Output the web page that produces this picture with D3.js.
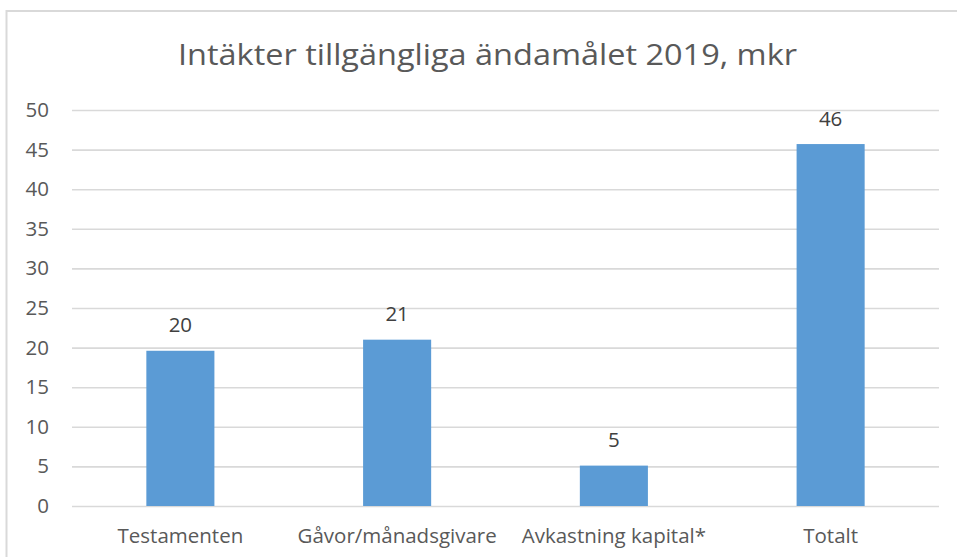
<!DOCTYPE html>
<html>
<head>
<meta charset="utf-8">
<script src="https://cdn.jsdelivr.net/npm/d3@7"></script>
<style>
  html, body { margin: 0; padding: 0; background: #ffffff; }
  svg { display: block; }
</style>
</head>
<body>
<svg id="chart" width="957" height="557"></svg>
<script>
// ---- data ----
const chartTitle = "Intäkter tillgängliga ändamålet 2019, mkr";
const categories = ["Testamenten", "Gåvor/månadsgivare", "Avkastning kapital*", "Totalt"];
const values = [19.6, 21.0, 5.1, 45.7];
const valueLabels = ["20", "21", "5", "46"];
const yTicks = [0, 5, 10, 15, 20, 25, 30, 35, 40, 45, 50];

// ---- layout ----
const W = 957, H = 557;
const plot = { left: 72, right: 939, top: 110, bottom: 506 };
const svg = d3.select("#chart");
const font = "'Open Sans', 'Noto Sans', sans-serif";

// chart border (extends beyond the right/bottom of the picture)
svg.append("rect")
  .attr("x", 6.5).attr("y", 11)
  .attr("width", W + 20).attr("height", H + 20)
  .attr("fill", "#ffffff")
  .attr("stroke", "#d9d9d9")
  .attr("stroke-width", 2);

// title
const title = svg.append("text")
  .attr("x", (178 + 797) / 2)
  .attr("y", 65)
  .attr("text-anchor", "middle")
  .attr("font-family", font)
  .attr("font-size", 30)
  .attr("fill", "#595959")
  .text(chartTitle);
title.attr("textLength", 619).attr("lengthAdjust", "spacingAndGlyphs");

// scales
const x = d3.scaleBand()
  .domain(categories)
  .range([plot.left, plot.right])
  .paddingInner(0.686)
  .paddingOuter(0.343);

const y = d3.scaleLinear()
  .domain([0, 50])
  .range([plot.bottom, plot.top]);

// gridlines + y axis labels via d3 axis
const yAxis = svg.append("g")
  .attr("transform", `translate(${plot.left},0)`)
  .call(d3.axisLeft(y).tickValues(yTicks).tickSize(-(plot.right - plot.left)).tickPadding(23));
yAxis.select(".domain").remove();
yAxis.selectAll(".tick line")
  .attr("stroke", "#d9d9d9")
  .attr("stroke-width", 1.6);
yAxis.selectAll(".tick text")
  .attr("font-family", font)
  .attr("font-size", 20.5)
  .attr("fill", "#595959");

// bars
svg.append("g").selectAll("rect")
  .data(categories)
  .join("rect")
  .attr("x", d => x(d))
  .attr("width", x.bandwidth())
  .attr("y", (d, i) => y(values[i]))
  .attr("height", (d, i) => y(0) - y(values[i]))
  .attr("fill", "#5b9bd5");

// data labels
svg.append("g").selectAll("text")
  .data(categories)
  .join("text")
  .attr("x", d => x(d) + x.bandwidth() / 2)
  .attr("y", (d, i) => y(values[i]) - 18.5)
  .attr("text-anchor", "middle")
  .attr("font-family", font)
  .attr("font-size", 20.5)
  .attr("fill", "#404040")
  .text((d, i) => valueLabels[i]);

// x axis labels
const xAxis = svg.append("g")
  .attr("transform", `translate(0,${plot.bottom})`)
  .call(d3.axisBottom(x).tickSize(0).tickPadding(22));
xAxis.select(".domain").remove();
xAxis.selectAll(".tick text")
  .attr("font-family", font)
  .attr("font-size", 20.5)
  .attr("fill", "#595959");
</script>
</body>
</html>
